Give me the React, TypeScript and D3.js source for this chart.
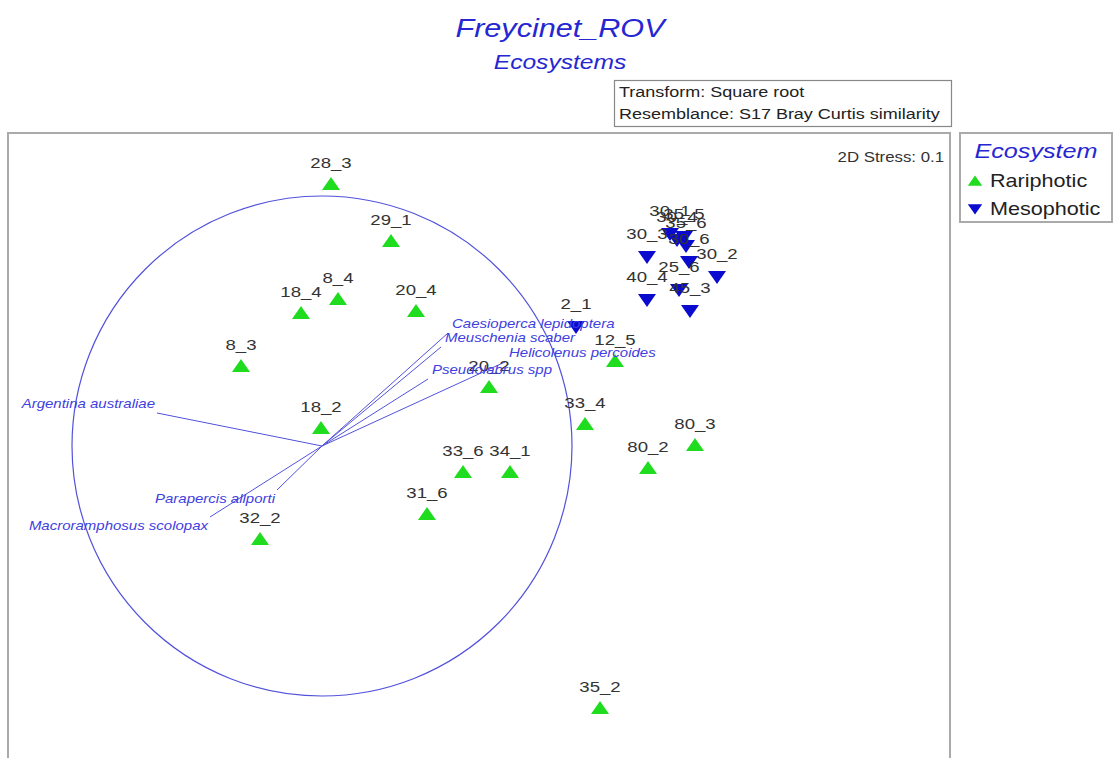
import React from "react";
import * as d3 from "d3";

// ---- Data (nMDS coordinates, correlation-circle units) ----
const rariLabels = ["28_3", "29_1", "8_4", "18_4", "20_4", "8_3", "20_2", "18_2", "12_5", "33_4", "80_3", "80_2", "33_6", "34_1", "31_6", "32_2", "35_2"];
const rariX = [0.036, 0.276, 0.064, -0.084, 0.376, -0.324, 0.668, -0.004, 1.172, 1.052, 1.492, 1.304, 0.564, 0.752, 0.42, -0.248, 1.112];
const rariY = [1.048, 0.82, 0.588, 0.532, 0.54, 0.32, 0.236, 0.072, 0.34, 0.088, 0.004, -0.088, -0.104, -0.104, -0.272, -0.372, -1.048];

const mesoLabels = ["2_1", "30_3", "40_4", "30_2", "25_6", "45_3", "30_1", "30_4", "35_5", "35_6", "30_6"];
const mesoX = [1.016, 1.3, 1.3, 1.58, 1.428, 1.472, 1.392, 1.42, 1.448, 1.456, 1.468];
const mesoY = [0.476, 0.756, 0.584, 0.676, 0.624, 0.54, 0.848, 0.824, 0.836, 0.8, 0.736];

const vectorNames = ["Caesioperca lepidoptera", "Meuschenia scaber", "Helicolenus percoides", "Pseudolabrus spp", "Argentina australiae", "Parapercis allporti", "Macroramphosus scolopax"];
const vectorX = [0.504, 0.476, 0.732, 0.424, -0.66, -0.18, -0.448];
const vectorY = [0.452, 0.396, 0.336, 0.268, 0.132, -0.176, -0.284];

const legendNames = ["Rariphotic", "Mesophotic"];
const titleText = "Freycinet_ROV";
const subtitleText = "Ecosystems";
const infoLines = ["Transform: Square root", "Resemblance: S17 Bray Curtis similarity"];
const stressText = "2D Stress: 0.1";
const legendTitle = "Ecosystem";

// ---- Layout / style ----
const W = 1114, H = 758;
const PL = 8, PT = 133, PR = 950, PB = 770;
const SX = 1.2; // horizontal text stretch
const GREEN = "#1fdc1f";
const BLUE = "#0b0bd0";
const TITLE_BLUE = "#2626d2";
const VEC_COL = "#5252dc";
const VEC_TXT = "#4040e0";
const FONT = "'Liberation Sans', Arial, sans-serif";

const up = "M0,-7L9,6L-9,6Z";
const down = "M0,7L9,-6L-9,-6Z";

function T({ x, y, children, size, anchor = "start", fill = "#333", italic = false }: any) {
  return (
    <text
      transform={`translate(${x},${y}) scale(${SX},1)`}
      textAnchor={anchor}
      fontSize={size}
      fontFamily={FONT}
      fontStyle={italic ? "italic" : "normal"}
      fill={fill}
    >
      {children}
    </text>
  );
}

export default function App() {
  const x = d3.scaleLinear().domain([-1.26, 2.512]).range([7, 950]);
  const y = d3.scaleLinear().domain([-1.248, 1.252]).range([758, 133]);
  const r = x(1) - x(0);

  const rari = rariLabels.map((l, i) => ({ l, px: x(rariX[i]), py: y(rariY[i]) }));
  const meso = mesoLabels.map((l, i) => ({ l, px: x(mesoX[i]), py: y(mesoY[i]) }));
  const vecs = vectorNames.map((n, i) => ({ n, dx: vectorX[i], dy: vectorY[i] }));

  return (
    <svg width={W} height={H} style={{ position: "absolute", left: 0, top: 0, background: "#fff" }}>
      <rect x={0} y={0} width={W} height={H} fill="#fff" />
      {/* Titles */}
      <T x={560} y={37} size={25.5} anchor="middle" fill={TITLE_BLUE} italic>{titleText}</T>
      <T x={560} y={69} size={20.5} anchor="middle" fill={TITLE_BLUE} italic>{subtitleText}</T>

      {/* Info box */}
      <rect x={614.5} y={80.5} width={337} height={46} fill="#fff" stroke="#888" strokeWidth={1.2} />
      {infoLines.map((t, i) => (
        <T key={t} x={619} y={97 + i * 22} size={15} fill="#222">{t}</T>
      ))}

      {/* Plot frame */}
      <rect x={PL} y={PT} width={PR - PL} height={PB - PT} fill="none" stroke="#aaa" strokeWidth={2} />
      <T x={944} y={162} size={14} anchor="end" fill="#333">{stressText}</T>

      {/* Correlation circle */}
      <circle cx={x(0)} cy={y(0)} r={r} fill="none" stroke={VEC_COL} strokeWidth={1.2} />

      {/* Vectors */}
      {vecs.map((v) => (
        <line key={v.n} x1={x(0)} y1={y(0)} x2={x(v.dx)} y2={y(v.dy)} stroke={VEC_COL} strokeWidth={1} />
      ))}

      {/* Points */}
      {rari.map((p) => (
        <path key={p.l} d={up} transform={`translate(${p.px},${p.py})`} fill={GREEN} />
      ))}
      {meso.map((p) => (
        <path key={p.l} d={down} transform={`translate(${p.px},${p.py})`} fill={BLUE} />
      ))}
      {rari.map((p) => (
        <T key={"t" + p.l} x={p.px} y={p.py - 16.5} size={15.5} anchor="middle" fill="#333">{p.l}</T>
      ))}
      {meso.map((p) => (
        <T key={"t" + p.l} x={p.px} y={p.py - 18} size={15.5} anchor="middle" fill="#333">{p.l}</T>
      ))}

      {/* Vector labels */}
      {vecs.map((v) => (
        <T
          key={"vl" + v.n}
          x={x(v.dx) + (v.dx > 0 ? 4 : -2)}
          y={y(v.dy) + (v.dy > 0 ? -5.5 : 13)}
          size={12.5}
          anchor={v.dx > 0 ? "start" : "end"}
          fill={VEC_TXT}
          italic
        >
          {v.n}
        </T>
      ))}

      {/* Legend */}
      <rect x={960} y={133} width={152} height={89} fill="#fff" stroke="#aaa" strokeWidth={2} />
      <T x={1036} y={158} size={21} anchor="middle" fill={TITLE_BLUE} italic>{legendTitle}</T>
      {legendNames.map((n, i) => (
        <g key={n}>
          <path d={i === 0 ? up : down} transform={`translate(975,${181 + i * 28}) scale(0.8)`} fill={i === 0 ? GREEN : BLUE} />
          <T x={990} y={187 + i * 28} size={18} fill="#222">{n}</T>
        </g>
      ))}
    </svg>
  );
}
